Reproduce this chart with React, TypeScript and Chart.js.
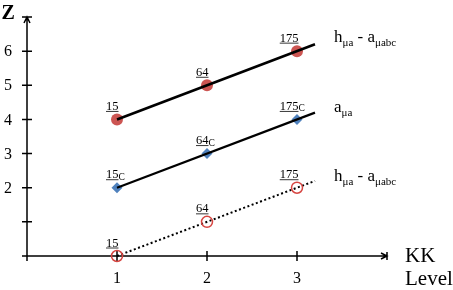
import React, { useEffect, useRef } from "react";
import { Chart, registerables } from "chart.js";

Chart.register(...registerables);

// ---- data ----
const levels = [1, 2, 3];
const hSeries = [4, 5, 6]; // h_μa - a_μabc (filled circles)
const aSeries = [2, 3, 4]; // a_μa (diamonds)
const dSeries = [0, 1, 2]; // h_μa - a_μabc (open circles, dotted)
const lineEndX = 3.2;
const hEnd = 6.2;
const aEnd = 4.2;
const dEnd = 2.2;
const pointLabels = ["15", "64", "175"];
const xTicks = [1, 2, 3];
const yTicks = [1, 2, 3, 4, 5, 6];
const yTickLabels = ["", "2", "3", "4", "5", "6"];

const SERIF = "'Liberation Serif', 'Times New Roman', serif";
const RED = "#cc5552";
const RED_OPEN = "#d64541";
const BLUE = "#4f81bd";

type Part = { t: string; size: number; dy: number };

function drawRich(ctx: CanvasRenderingContext2D, x: number, y: number, parts: Part[]) {
  let cx = x;
  ctx.textAlign = "left";
  ctx.textBaseline = "alphabetic";
  for (const p of parts) {
    ctx.font = `${p.size}px ${SERIF}`;
    ctx.fillText(p.t, cx, y + p.dy);
    cx += ctx.measureText(p.t).width;
  }
}

const overlay = {
  id: "overlay",
  beforeDatasetsDraw(chart: any) {
    const ctx: CanvasRenderingContext2D = chart.ctx;
    const xs = chart.scales.x;
    const ys = chart.scales.y;
    const x0 = xs.getPixelForValue(0);
    const y0 = ys.getPixelForValue(0);
    const xMax = xs.getPixelForValue(4);
    const yMax = ys.getPixelForValue(7);
    ctx.save();
    ctx.strokeStyle = "#000";
    ctx.lineWidth = 1.5;
    ctx.beginPath();
    // y axis
    ctx.moveTo(x0, y0 + 5);
    ctx.lineTo(x0, yMax);
    // x axis
    ctx.moveTo(x0 - 5, y0);
    ctx.lineTo(xMax, y0);
    // y ticks
    for (const v of yTicks) {
      const py = ys.getPixelForValue(v);
      ctx.moveTo(x0 - 5, py);
      ctx.lineTo(x0 + 5, py);
    }
    // x ticks
    for (const v of xTicks) {
      const px = xs.getPixelForValue(v);
      ctx.moveTo(px, y0 - 5);
      ctx.lineTo(px, y0 + 5);
    }
    // y arrow
    ctx.moveTo(x0 - 5, yMax);
    ctx.lineTo(x0 + 5, yMax);
    ctx.moveTo(x0 - 3, yMax + 6);
    ctx.lineTo(x0, yMax);
    ctx.lineTo(x0 + 3, yMax + 6);
    // x arrow
    ctx.moveTo(xMax, y0 - 4);
    ctx.lineTo(xMax, y0 + 4);
    ctx.moveTo(xMax - 6, y0 - 3);
    ctx.lineTo(xMax, y0);
    ctx.lineTo(xMax - 6, y0 + 3);
    ctx.stroke();

    // tick labels
    ctx.fillStyle = "#000";
    ctx.font = `16px ${SERIF}`;
    ctx.textAlign = "center";
    ctx.textBaseline = "middle";
    yTicks.forEach((v, i) => {
      ctx.fillText(yTickLabels[i], x0 - 19, ys.getPixelForValue(v) + 1);
    });
    ctx.textBaseline = "alphabetic";
    xTicks.forEach((v) => {
      ctx.fillText(String(v), xs.getPixelForValue(v), y0 + 27);
    });
    ctx.restore();
  },
  afterDatasetsDraw(chart: any) {
    const ctx: CanvasRenderingContext2D = chart.ctx;
    const xs = chart.scales.x;
    const ys = chart.scales.y;
    ctx.save();
    ctx.fillStyle = "#000";
    ctx.strokeStyle = "#000";

    const drawPointLabel = (xv: number, yv: number, label: string, suffix: boolean) => {
      const px = xs.getPixelForValue(xv) + 1.5;
      const py = ys.getPixelForValue(yv) - 9.5;
      ctx.font = `12.5px ${SERIF}`;
      ctx.textAlign = "right";
      ctx.textBaseline = "alphabetic";
      ctx.fillText(label, px, py);
      const w = ctx.measureText(label).width;
      ctx.lineWidth = 0.8;
      ctx.beginPath();
      ctx.moveTo(px - w, py + 1.5);
      ctx.lineTo(px, py + 1.5);
      ctx.stroke();
      if (suffix) {
        ctx.font = `9.5px ${SERIF}`;
        ctx.textAlign = "left";
        ctx.fillText("C", px, py + 1.5);
      }
    };
    levels.forEach((lv, i) => {
      drawPointLabel(lv, hSeries[i], pointLabels[i], false);
      drawPointLabel(lv, aSeries[i], pointLabels[i], true);
      drawPointLabel(lv, dSeries[i], pointLabels[i], false);
    });

    const lx = xs.getPixelForValue(lineEndX) + 19;
    const hLabel: Part[] = [
      { t: "h", size: 17, dy: 0 },
      { t: "μa", size: 11, dy: 4 },
      { t: " - a", size: 17, dy: 0 },
      { t: "μabc", size: 11, dy: 4 },
    ];
    drawRich(ctx, lx, ys.getPixelForValue(hEnd) - 2, hLabel);
    drawRich(ctx, lx, ys.getPixelForValue(aEnd) - 0.5, [
      { t: "a", size: 17, dy: 0 },
      { t: "μa", size: 11, dy: 4 },
    ]);
    drawRich(ctx, lx, ys.getPixelForValue(dEnd), hLabel);

    // axis titles
    ctx.textAlign = "left";
    ctx.font = `21px ${SERIF}`;
    ctx.fillText("KK", 405, 262);
    ctx.fillText("Level", 405, 285);
    ctx.font = `bold 20px ${SERIF}`;
    ctx.fillText("Z", 1.5, 19);
    ctx.restore();
  },
};

function pts(ys: number[]) {
  return levels.map((x, i) => ({ x, y: ys[i] }));
}
function linePts(ys: number[], end: number) {
  return [{ x: levels[0], y: ys[0] }, { x: lineEndX, y: end }];
}

export default function App() {
  const ref = useRef<HTMLCanvasElement | null>(null);
  useEffect(() => {
    document.body.style.margin = "0";
    const chart = new Chart(ref.current!, {
      type: "scatter",
      data: {
        datasets: [
          {
            data: pts(hSeries),
            pointStyle: "circle",
            pointRadius: 6,
            backgroundColor: RED,
            borderWidth: 0,
            showLine: false,
            order: 5,
            clip: false,
          } as any,
          {
            data: linePts(hSeries, hEnd),
            showLine: true,
            borderColor: "#000",
            borderWidth: 2.6,
            pointRadius: 0,
            order: 1,
            clip: false,
          },
          {
            data: pts(aSeries),
            pointStyle: "rectRot",
            pointRadius: 5.5,
            backgroundColor: BLUE,
            borderWidth: 0,
            showLine: false,
            order: 5,
            clip: false,
          },
          {
            data: linePts(aSeries, aEnd),
            showLine: true,
            borderColor: "#000",
            borderWidth: 2.2,
            pointRadius: 0,
            order: 1,
            clip: false,
          },
          {
            data: linePts(dSeries, dEnd),
            showLine: true,
            borderColor: "#000",
            borderWidth: 2,
            borderDash: [2, 2.5],
            pointRadius: 0,
            order: 3,
            clip: false,
          },
          {
            data: pts(dSeries),
            pointStyle: "circle",
            pointRadius: 5.5,
            backgroundColor: "rgba(0,0,0,0)",
            borderColor: RED_OPEN,
            borderWidth: 1.5,
            showLine: false,
            order: 2,
            clip: false,
          },
        ],
      },
      options: {
        responsive: false,
        animation: false,
        events: [],
        layout: { padding: { left: 27, right: 66, top: 17, bottom: 34 } },
        plugins: { legend: { display: false }, tooltip: { enabled: false } },
        scales: {
          x: { type: "linear", min: 0, max: 4, display: false },
          y: { type: "linear", min: 0, max: 7, display: false },
        },
      },
      plugins: [overlay],
    });
    return () => chart.destroy();
  }, []);
  return (
    <div style={{ position: "fixed", left: 0, top: 0, width: 453, height: 290, background: "#fff" }}>
      <canvas ref={ref} width={453} height={290} style={{ width: 453, height: 290 }} />
    </div>
  );
}
